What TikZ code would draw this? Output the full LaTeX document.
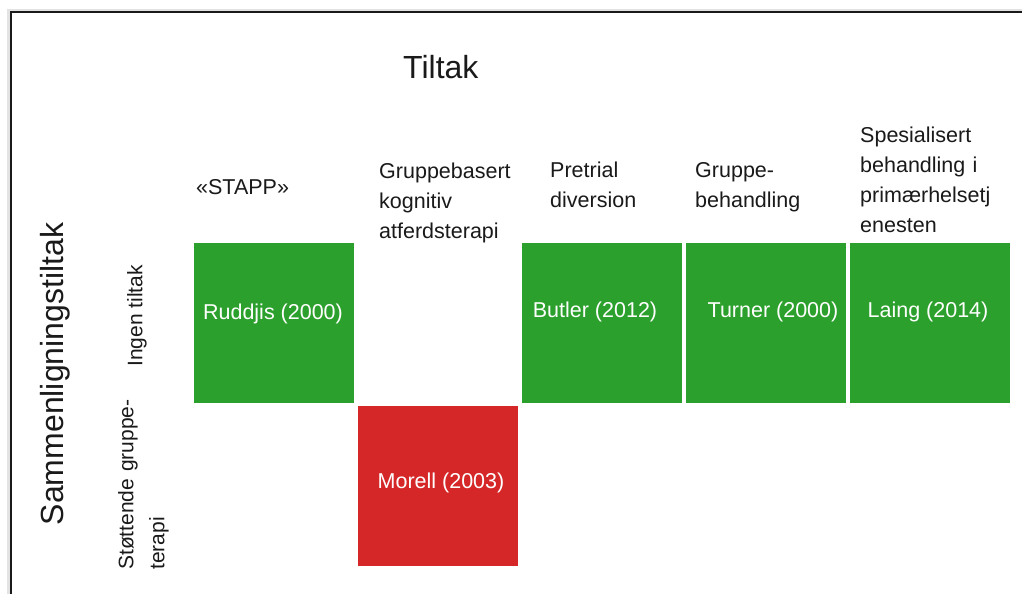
\documentclass[tikz,border=0pt]{standalone}
\usepackage{fontspec}
\setmainfont{Liberation Sans}
\definecolor{cgreen}{HTML}{2CA02C}
\definecolor{cred}{HTML}{D62728}
\definecolor{ink}{HTML}{1A1A1A}
\definecolor{framegray}{HTML}{E3E3E3}
\begin{document}
\begin{tikzpicture}[x=1pt,y=-1pt,
  cell/.style={rectangle, inner sep=0, minimum width=160pt, minimum height=160pt, anchor=north west},
  hdr/.style={font=\fontsize{21.5}{30}\selectfont, text=ink, inner sep=0, anchor=base west, align=left, text width=160pt},
  lab/.style={font=\fontsize{21.5}{26}\selectfont, text=white, inner sep=0},
  rowlab/.style={font=\fontsize{21}{31}\selectfont, text=ink, inner sep=0, rotate=90},
  big/.style={font=\fontsize{32}{38}\selectfont, text=ink, inner sep=0}]
\useasboundingbox (0,0) rectangle (1022,594);
\fill[white] (0,0) rectangle (1022,594);
\fill[framegray] (7,9) rectangle (1022,594);
\fill[ink] (10,11) rectangle (1022,594);
\fill[white] (12,13) rectangle (1022,594);
% cells
\node[cell, fill=cgreen] (c11) at (194,243) {};
\node[cell, fill=cred]   (c22) at (358,406) {};
\node[cell, fill=cgreen] (c13) at (522,243) {};
\node[cell, fill=cgreen] (c14) at (686,243) {};
\node[cell, fill=cgreen] (c15) at (850,243) {};
% cell labels
\node[lab] (l11) at (273,314) {Ruddjis (2000)};
\node[lab] (l22) at (441,483) {Morell (2003)};
\node[lab] (l13) at (595,312) {Butler (2012)};
\node[lab] (l14) at (773,312) {Turner (2000)};
\node[lab] (l15) at (928,312) {Laing (2014)};
% headers
\node[big, anchor=base west] (title) at (403,78) {Tiltak};
\node[hdr] (h1) at (196,194) {«STAPP»};
\node[hdr] (h2) at (379,178) {Gruppebasert\\kognitiv\\atferdsterapi};
\node[hdr] (h3) at (550,177) {Pretrial\\diversion};
\node[hdr] (h4) at (695,177) {Gruppe-\\behandling};
\node[hdr] (h5) at (860,142) {Spesialisert\\behandling i\\primærhelsetj\\enesten};
% row labels
\node[big, rotate=90] (side) at (55,374) {Sammenligningstiltak};
\node[rowlab] (r1) at (137,316) {Ingen tiltak};
\node[rowlab, anchor=north west, align=left, text width=180pt] (r2) at (118,570) {Støttende gruppe-\\terapi};
\end{tikzpicture}
\end{document}
